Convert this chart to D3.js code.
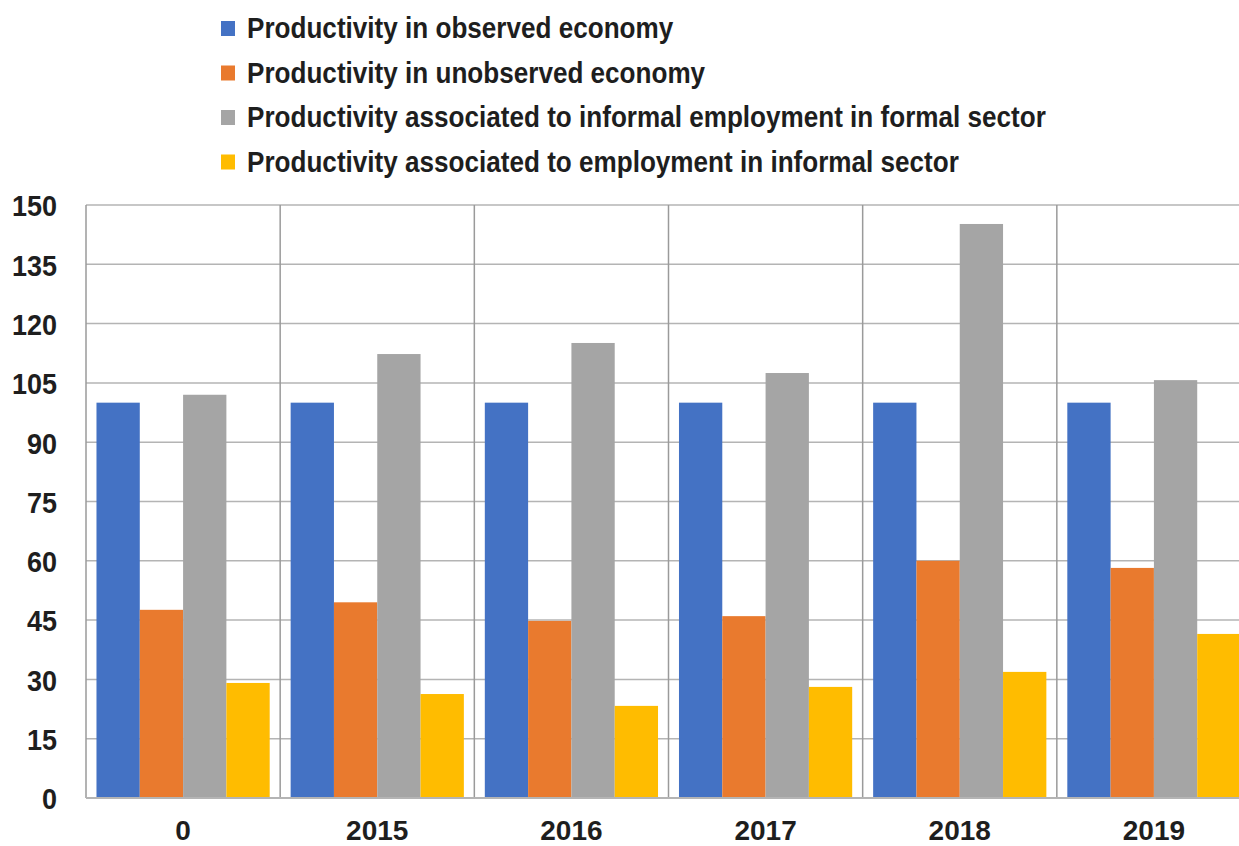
<!DOCTYPE html>
<html><head><meta charset="utf-8">
<script src="https://cdn.jsdelivr.net/npm/d3@7"></script>
<style>
html,body{margin:0;padding:0;background:#fff;}
svg text{font-family:"Liberation Sans","Arial",sans-serif;font-weight:bold;fill:#1e1e1e;}
</style></head>
<body>
<svg id="chart" width="1239" height="846"></svg>
<script>
const categories = ["0","2015","2016","2017","2018","2019"];
const seriesNames = [
  "Productivity in observed economy",
  "Productivity in unobserved economy",
  "Productivity associated to informal employment in formal sector",
  "Productivity associated to employment in informal sector"
];
const observed   = [100, 100, 100, 100, 100, 100];
const unobserved = [47.6, 49.5, 44.8, 46.0, 60.0, 58.2];
const informalEmpFormal = [102.0, 112.3, 115.1, 107.5, 145.2, 105.7];
const informalSector    = [29.1, 26.3, 23.3, 28.1, 31.9, 41.5];
const yTicks = [0,15,30,45,60,75,90,105,120,135,150];
const colors = ["#4472C4","#E97A2E","#A5A5A5","#FFBC00"];

const seriesValues = [observed, unobserved, informalEmpFormal, informalSector];

const svg = d3.select("#chart");
const W = 1239, H = 846;
const m = {left:86, top:205, bottom:798, right:1251};

const x0 = d3.scaleBand().domain(categories).range([m.left, m.right]).paddingInner(0).paddingOuter(0);
const x1 = d3.scaleBand().domain(d3.range(seriesNames.length)).range([0, x0.bandwidth()]).paddingInner(0).paddingOuter(0.242);
const y = d3.scaleLinear().domain([0,150]).range([m.bottom, m.top]);

// horizontal gridlines
svg.append("g").selectAll("line").data(yTicks).join("line")
  .attr("x1", m.left).attr("x2", W)
  .attr("y1", d=>y(d)).attr("y2", d=>y(d))
  .attr("stroke", "#b4b4b4").attr("stroke-width", 1.5);

// vertical separators
svg.append("g").selectAll("line").data(categories).join("line")
  .attr("x1", d=>x0(d)).attr("x2", d=>x0(d))
  .attr("y1", m.top).attr("y2", m.bottom)
  .attr("stroke", "#9a9a9a").attr("stroke-width", 1.5);

// bars
const g = svg.append("g");
categories.forEach((c, ci) => {
  seriesValues.forEach((vals, si) => {
    g.append("rect")
      .attr("x", x0(c) + x1(si))
      .attr("width", x1.bandwidth())
      .attr("y", y(vals[ci]))
      .attr("height", y(0) - y(vals[ci]))
      .attr("fill", colors[si]);
  });
});

// baseline
svg.append("line").attr("x1", m.left).attr("x2", W).attr("y1", y(0)).attr("y2", y(0))
  .attr("stroke","#b4b4b4").attr("stroke-width",2);

// y axis labels
const yAxis = d3.axisLeft(y).tickValues(yTicks).tickSize(0).tickPadding(0);
const ya = svg.append("g").attr("transform", `translate(57,0)`).call(yAxis);
ya.select(".domain").remove();
ya.selectAll("text").attr("font-size", 30).attr("dy", "0.36em").attr("transform","scale(0.9,1)")
  .style("font-family", '"Liberation Sans",sans-serif').style("font-weight","bold").attr("fill","#1e1e1e");

// x axis labels
const xAxis = d3.axisBottom(x0).tickSize(0).tickPadding(0);
const xa = svg.append("g").attr("transform", `translate(0,820)`).call(xAxis);
xa.select(".domain").remove();
xa.selectAll("text").attr("font-size", 28).attr("dy", "0.71em").attr("transform","scale(1,1)")
  .style("font-family", '"Liberation Sans",sans-serif').style("font-weight","bold").attr("fill","#1e1e1e");

// legend
const leg = svg.append("g");
seriesNames.forEach((n, i) => {
  const cy = 28 + i*44.5;
  leg.append("rect").attr("x", 221).attr("y", cy-7).attr("width", 14).attr("height", 15).attr("fill", colors[i]);
  leg.append("text").attr("transform", `translate(247,${cy}) scale(0.9,1)`).attr("dy","0.36em").attr("font-size", 29).text(n);
});
</script>
</body></html>
